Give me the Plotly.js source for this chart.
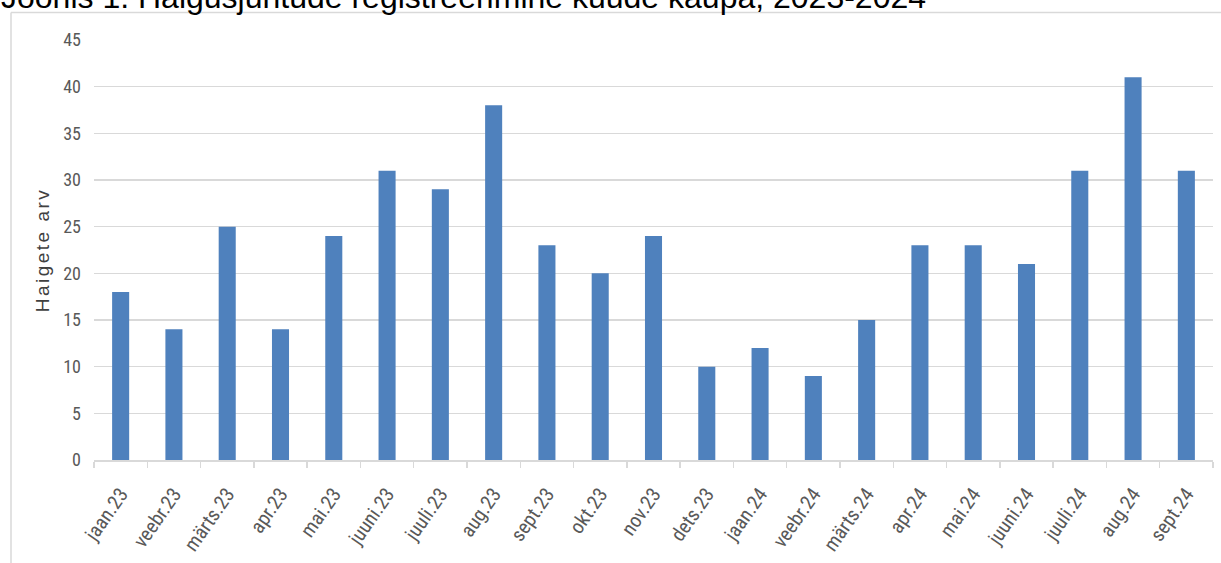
<!DOCTYPE html>
<html>
<head>
<meta charset="utf-8">
<script src="https://cdn.plot.ly/plotly-3.0.1.min.js"></script>
<style>
  html, body { margin: 0; padding: 0; background: #ffffff; }
  #chart { width: 1221px; height: 563px; }
  #chart .g-ytitle text { letter-spacing: 2.5px; }
</style>
</head>
<body>
<div id="chart"></div>
<script>
// ---- data ----
const months = ["jaan.23","veebr.23","märts.23","apr.23","mai.23","juuni.23","juuli.23","aug.23","sept.23","okt.23","nov.23","dets.23",
                "jaan.24","veebr.24","märts.24","apr.24","mai.24","juuni.24","juuli.24","aug.24","sept.24"];
const cases = [18,14,25,14,24,31,29,38,23,20,24,10,12,9,15,23,23,21,31,41,31];
const yTickValues = [0,5,10,15,20,25,30,35,40,45];
const titleText = "Joonis 1. Haigusjuhtude registreerimine kuude kaupa, 2023-2024";
const yTitleText = "Haigete arv";

// ---- layout geometry (pixels) ----
const W = 1221, H = 563;
const mL = 94, mR = 8, mT = 40, mB = 103;
const plotW = W - mL - mR, plotH = H - mT - mB;
const px2x = p => (p - mL) / plotW;
const px2y = p => (H - mB - p) / plotH;

const narrow = "'Liberation Sans Narrow', 'Roboto Condensed', 'DejaVu Sans Condensed', sans-serif";
const frameColor = "#d9d9d9";

const trace = {
  type: "bar",
  x: months,
  y: cases,
  marker: { color: "#4f81bd" },
  hoverinfo: "x+y"
};

const layout = {
  width: W, height: H,
  margin: { l: mL, r: mR, t: mT, b: mB, pad: 0 },
  paper_bgcolor: "#ffffff",
  plot_bgcolor: "#ffffff",
  showlegend: false,
  bargap: 0.68,
  annotations: [
    { text: titleText, showarrow: false,
      xref: "paper", yref: "paper",
      x: px2x(-1), xanchor: "left",
      y: px2y(17), yanchor: "bottom",
      font: { family: "'Liberation Sans', Arial, sans-serif", size: 32, color: "#000000" } }
  ],
  xaxis: {
    type: "category",
    showgrid: false,
    showline: true, linecolor: frameColor, linewidth: 1.5,
    ticks: "outside", tickson: "boundaries", ticklen: 6, tickcolor: frameColor, tickwidth: 1.5,
    tickangle: -55,
    ticklabelstandoff: 13,
    tickfont: { family: narrow, size: 20, color: "#595959" },
    automargin: false,
    fixedrange: true
  },
  yaxis: {
    range: [0, 45],
    tickmode: "array",
    tickvals: yTickValues,
    ticktext: yTickValues.map(String),
    showgrid: true, gridcolor: frameColor, gridwidth: 1.5,
    zeroline: false,
    showline: false,
    ticks: "",
    ticklabelstandoff: 12,
    tickfont: { family: narrow, size: 18, color: "#595959" },
    title: {
      text: yTitleText,
      font: { family: "'Liberation Sans', Arial, sans-serif", size: 19, color: "#404040" },
      standoff: 8
    },
    automargin: false,
    fixedrange: true
  },
  shapes: [
    { type: "line", xref: "paper", yref: "paper", layer: "below",
      x0: px2x(11), x1: px2x(11), y0: px2y(12.5), y1: px2y(H + 5),
      line: { color: frameColor, width: 1.5 } },
    { type: "line", xref: "paper", yref: "paper", layer: "below",
      x0: px2x(11), x1: px2x(W + 5), y0: px2y(12.5), y1: px2y(12.5),
      line: { color: frameColor, width: 1.5 } }
  ]
};

Plotly.newPlot("chart", [trace], layout, { displayModeBar: false, staticPlot: true });
</script>
</body>
</html>
